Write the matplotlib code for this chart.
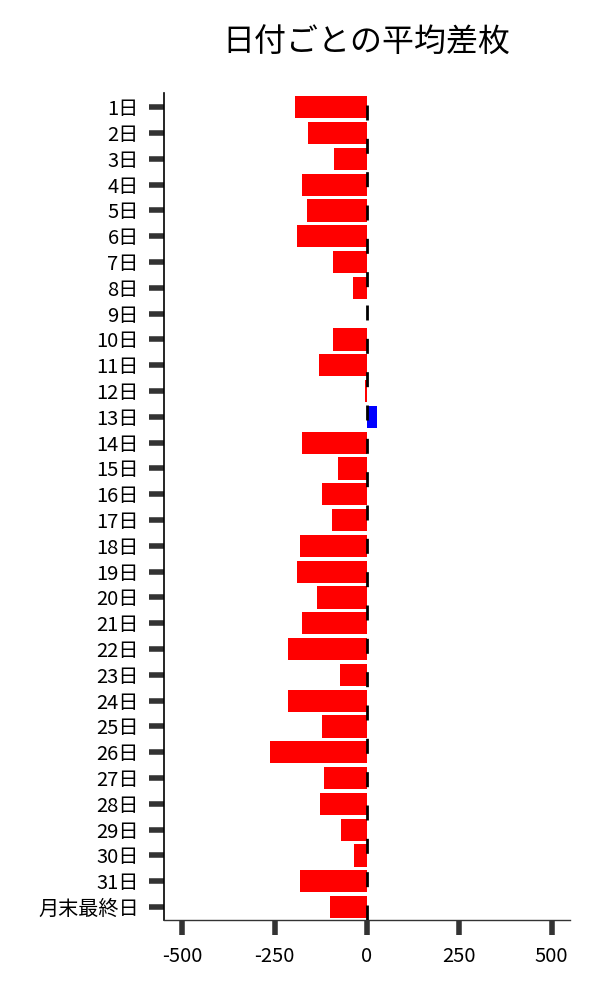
import matplotlib.pyplot as plt
import numpy as np

plt.rcParams['font.family'] = ['Noto Sans CJK JP', 'DejaVu Sans']

# data
days = [f'{d}日' for d in range(1, 32)] + ['月末最終日']
avg_diff = [-195, -159, -89, -176, -162, -189, -92, -38, 1, -92,
            -130, -5, 27, -176, -79, -121, -94, -180, -188, -134,
            -175, -213, -72, -213, -121, -262, -115, -126, -70, -34,
            -180, -99]
xticks = [-500, -250, 0, 250, 500]

colors = ['#0000ff' if v > 0 else '#ff0000' for v in avg_diff]
ypos = np.arange(len(days))

fig = plt.figure(figsize=(6, 10), dpi=100)
ax = fig.add_axes([0.273, 0.08, 0.677, 0.827])

ax.barh(ypos, avg_diff, height=0.86, color=colors, zorder=2)
ax.axvline(0, color='black', linewidth=2, linestyle=(0, (5.4, 6.6)), zorder=3)

ax.set_xlim(-550, 550)
ax.set_ylim(len(days) - 0.5, -0.55)
ax.set_yticks(ypos)
ax.set_yticklabels(days)
ax.set_xticks(xticks)
ax.set_xticklabels([str(t) for t in xticks])

ax.tick_params(axis='both', which='major', length=11, width=4,
               color='#333333', labelsize=14.5, pad=7)
ax.tick_params(axis='x', pad=8)

for side in ['top', 'right']:
    ax.spines[side].set_visible(False)
ax.spines['left'].set_linewidth(1.2)
ax.spines['bottom'].set_linewidth(1.0)
ax.spines['bottom'].set_color('#333333')

fig.suptitle('日付ごとの平均差枚', fontsize=23, x=0.61, y=0.973)

fig.savefig('out.png', dpi=100)
